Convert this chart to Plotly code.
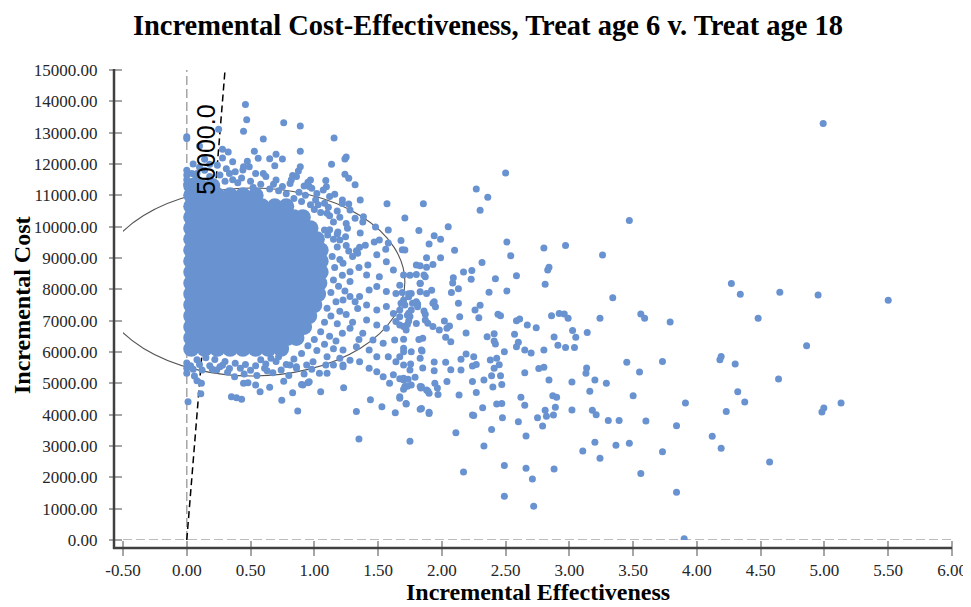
import plotly.graph_objects as go

# ---------------- data ----------------
title_text = "Incremental Cost-Effectiveness, Treat age 6 v. Treat age 18"
x_title = "Incremental Effectiveness"
y_title = "Incremental Cost"

x_tick_vals = [-0.5, 0.0, 0.5, 1.0, 1.5, 2.0, 2.5, 3.0, 3.5, 4.0, 4.5, 5.0, 5.5, 6.0]
x_tick_text = ["-0.50", "0.00", "0.50", "1.00", "1.50", "2.00", "2.50", "3.00",
               "3.50", "4.00", "4.50", "5.00", "5.50", "6.00"]
y_tick_vals = [0, 1000, 2000, 3000, 4000, 5000, 6000, 7000, 8000, 9000, 10000,
               11000, 12000, 13000, 14000, 15000]
y_tick_text = ["0.00", "1000.00", "2000.00", "3000.00", "4000.00", "5000.00",
               "6000.00", "7000.00", "8000.00", "9000.00", "10000.00", "11000.00",
               "12000.00", "13000.00", "14000.00", "15000.00"]

wtp = 50000.0          # willingness-to-pay threshold line
cost_max = 15000.0

# confidence ellipse (centre and half-axes, data units)
ellipse_center = (0.51, 8235)
ellipse_half = (1.20, 3000)

# dense core of the simulation cloud (rows of cost, effectiveness values)
core_row_cost = [11300, 11000, 10650, 10300, 9950, 9600, 9250, 8900, 8550, 8200,
                 7850, 7500, 7150, 6800, 6450, 6100]
core_row_eff = [
    [0.035, 0.10, 0.20],
    [0.035, 0.14, 0.24, 0.34, 0.44, 0.54],
    [0.035, 0.09, 0.19, 0.29, 0.39, 0.49, 0.59, 0.69, 0.78],
    [0.035, 0.14, 0.24, 0.34, 0.44, 0.54, 0.64, 0.74, 0.84, 0.91],
    [0.035, 0.09, 0.19, 0.29, 0.39, 0.49, 0.59, 0.69, 0.79, 0.89, 0.97],
    [0.035, 0.14, 0.24, 0.34, 0.44, 0.54, 0.64, 0.74, 0.84, 0.94, 1.02],
    [0.035, 0.09, 0.19, 0.29, 0.39, 0.49, 0.59, 0.69, 0.79, 0.89, 0.99, 1.05],
    [0.035, 0.14, 0.24, 0.34, 0.44, 0.54, 0.64, 0.74, 0.84, 0.94, 1.05],
    [0.035, 0.09, 0.19, 0.29, 0.39, 0.49, 0.59, 0.69, 0.79, 0.89, 0.99, 1.05],
    [0.035, 0.14, 0.24, 0.34, 0.44, 0.54, 0.64, 0.74, 0.84, 0.94, 1.04],
    [0.035, 0.09, 0.19, 0.29, 0.39, 0.49, 0.59, 0.69, 0.79, 0.89, 0.99, 1.03],
    [0.035, 0.14, 0.24, 0.34, 0.44, 0.54, 0.64, 0.74, 0.84, 0.94, 1.00],
    [0.035, 0.09, 0.19, 0.29, 0.39, 0.49, 0.59, 0.69, 0.79, 0.89, 0.96],
    [0.035, 0.14, 0.24, 0.34, 0.44, 0.54, 0.64, 0.74, 0.84, 0.92],
    [0.035, 0.09, 0.19, 0.29, 0.39, 0.49, 0.59, 0.69, 0.79, 0.86],
    [0.035, 0.14, 0.24, 0.34, 0.44, 0.54, 0.64, 0.74],
]

# scattered simulations (effectiveness, cost)
top_points = [
    (0.46, 13895), (0.47, 13415), (0.0, 12870), (0.0, 12810), (0.25, 13110), (0.445, 13045),
    (0.76, 13320), (0.89, 13215), (0.60, 12800), (1.155, 12830), (0.89, 12405), (0.53, 12405),
    (0.10, 12575), (0.28, 12470), (0.325, 12385), (0.70, 12310), (0.65, 12170), (0.75, 12160),
    (0.69, 11945), (1.25, 12225), (1.24, 12160), (1.135, 11990), (0.89, 11915), (0.875, 11780),
    (0.83, 11630), (0.56, 12180), (0.475, 12085), (0.445, 11915), (0.28, 12195), (0.36, 12075),
    (0.18, 11990), (0.24, 11960), (1.24, 11675), (1.27, 11545), (1.32, 11340), (1.09, 11470),
    (1.095, 11275), (1.16, 11035), (0.97, 11490), (0.95, 11415), (0.98, 11225),
    (0.44, 11810), (0.49, 11915), (0.54, 11700), (0.62, 11600), (0.70, 11490), (0.75, 11280),
    (0.81, 11380), (0.86, 11600), (0.96, 11280), (1.02, 11060), (1.07, 11170), (1.12, 10960),
    (1.22, 10740), (1.28, 10530),
    (0.0, 11800), (0.0, 11650), (0.0, 11500), (0.0, 11350), (0.02, 11200), (0.04, 11700),
    (0.04, 11400), (0.07, 11550), (0.07, 11300), (0.11, 11450), (0.11, 11250), (0.15, 11350),
    (0.19, 11300), (0.23, 11250), (0.08, 11700), (0.18, 11600), (0.26, 11650), (0.335, 11700),
    (0.30, 11450), (0.36, 11500), (0.40, 11400), (0.43, 11550), (0.50, 11450), (0.52, 11250),
    (0.58, 11350), (0.65, 11200), (0.68, 11350), (0.72, 11150), (0.78, 11050), (0.84, 10900),
    (0.88, 11100), (0.90, 10800), (0.93, 11000), (0.97, 10700), (1.00, 10550), (1.05, 10450),
    (0.10, 11900), (0.38, 11750), (0.60, 11700), (0.82, 11500), (0.92, 11300), (1.01, 10850),
    (1.08, 10750), (1.12, 10350), (1.15, 10150), (1.18, 10500), (1.20, 10300), (1.25, 10100),
    (1.22, 10850), (0.05, 12000), (0.14, 12150), (0.31, 11850), (0.14, 11800),
]

right_points = [
    (1.57, 10735), (1.36, 10850), (1.27, 10725), (1.385, 10320), (1.38, 10150), (1.32, 10270),
    (1.26, 9950), (1.48, 9990), (1.58, 9895), (1.36, 9800), (1.185, 9830), (1.18, 9765),
    (1.20, 9575), (1.245, 9680), (1.105, 9735), (1.47, 9510), (1.51, 9575), (1.58, 9480),
    (1.56, 9280), (1.33, 9235), (1.27, 9225), (1.355, 9345), (1.40, 9405), (1.03, 10700),
    (1.10, 10430), (1.11, 10620), (1.08, 9895),
    (1.225, 8830), (1.34, 9150), (1.49, 9100), (1.565, 8880), (1.42, 8780), (1.28, 8560),
    (1.41, 8460), (1.51, 8400), (1.62, 8620), (1.70, 8460), (1.80, 8780), (1.87, 8400),
    (1.83, 8190), (1.88, 7870), (1.76, 7870), (1.70, 7660), (1.64, 7870), (1.565, 7930),
    (1.49, 8090), (1.43, 7980), (1.355, 7770), (1.28, 7770), (1.225, 7660), (1.34, 7390),
    (1.41, 7500), (1.49, 7340), (1.565, 7450), (1.62, 7230), (1.67, 7340), (1.75, 7130),
    (1.81, 7500), (1.87, 7020), (1.41, 7020), (1.49, 6860), (1.565, 6760), (1.64, 6970),
    (1.70, 6810), (1.80, 6910), (1.85, 6440), (1.28, 6760), (1.38, 6600), (1.46, 6380),
    (1.54, 6280), (1.63, 6380), (1.70, 6120), (1.76, 6010), (1.84, 6060), (1.225, 6060),
    (1.33, 6170), (1.43, 6060), (1.49, 5850), (1.58, 5850), (1.64, 5690), (1.70, 5585),
    (1.75, 5425), (1.83, 5800), (1.355, 5690), (1.43, 5480), (1.49, 5370), (1.54, 5210),
    (1.62, 5270), (1.70, 5160), (1.76, 4950), (1.84, 4890), (1.90, 4680), (1.59, 5000),
    (1.67, 4570), (1.72, 4360), (1.84, 4200), (1.90, 4040), (1.28, 5740), (1.225, 5585),
    (1.09, 5585),
    (1.12, 9900), (1.15, 9600), (1.18, 9350), (1.14, 9050), (1.20, 8950), (1.16, 8700),
    (1.22, 8450), (1.15, 8300), (1.19, 8100), (1.13, 7900), (1.24, 7950), (1.17, 7600),
    (1.10, 7400), (1.20, 7300), (1.13, 7150), (1.08, 6950), (1.18, 6900), (1.05, 6650),
    (1.12, 6500), (1.00, 6400), (1.08, 6250), (0.95, 6200), (1.02, 6050), (0.90, 5950),
    (1.25, 9400), (1.30, 9050), (1.35, 8700), (1.28, 8250), (1.32, 7600), (1.25, 7200),
    (1.30, 6950), (1.22, 6600), (1.17, 6350), (1.35, 6400), (1.15, 6100), (1.10, 5850),
    (1.20, 5800),
]

bottom_points = [
    (0.0, 5480), (0.0, 5320), (0.01, 4415), (0.06, 5235), (0.08, 5085), (0.115, 5000),
    (0.11, 4670), (0.12, 5425), (0.18, 5565), (0.235, 5425), (0.26, 5530), (0.335, 5470),
    (0.375, 5210), (0.35, 4575), (0.39, 4540), (0.43, 4490), (0.445, 5000), (0.48, 5020),
    (0.54, 4945), (0.575, 4735), (0.65, 4875), (0.675, 5340), (0.745, 4460), (0.76, 5065),
    (0.83, 4700), (0.87, 4115), (0.90, 4960), (0.95, 5020), (1.05, 4735), (1.04, 5320),
    (1.10, 5320), (1.15, 5585), (1.225, 5530), (1.23, 4860), (1.33, 4105), (1.35, 3225),
    (1.44, 4480), (1.53, 4255), (1.635, 4065), (1.88, 4790), (1.83, 4895),
    (0.0, 5650), (0.03, 5560), (0.08, 5750), (0.15, 5820), (0.22, 5760), (0.30, 5700),
    (0.38, 5640), (0.46, 5600), (0.54, 5560), (0.62, 5620), (0.70, 5700), (0.78, 5600),
    (0.84, 5780), (0.05, 5450), (0.28, 5580), (0.42, 5480), (0.50, 5420), (0.58, 5750),
    (0.66, 5800), (0.72, 5850), (0.86, 5480), (0.10, 5600), (0.20, 5450), (0.32, 5350),
    (0.45, 5300), (0.55, 5250), (0.63, 5400), (0.80, 5250), (0.92, 5300), (0.98, 5450),
    (0.61, 5480), (0.74, 5425), (0.81, 5585), (0.86, 5530), (0.94, 5585), (0.99, 5690),
    (0.96, 5050), (0.91, 4950),
]

far_points = [
    (4.99, 13290), (4.27, 8190), (4.34, 7840), (4.65, 7910), (4.95, 7820), (5.50, 7650),
    (4.48, 7075), (4.86, 6200), (4.19, 5860), (4.18, 5755), (4.30, 5620), (4.64, 5140),
    (4.32, 4735), (4.375, 4405), (3.91, 4370), (4.23, 4100), (3.84, 3650), (4.12, 3310),
    (4.19, 2925), (4.57, 2490), (4.98, 4085), (4.995, 4215), (5.13, 4370), (3.84, 1520),
    (3.90, 40),
    (3.60, 3800), (3.50, 4600), (3.73, 2820), (3.56, 2120), (3.47, 3090), (3.365, 3020),
    (3.39, 3810), (3.305, 3810), (3.24, 2610), (3.20, 3120), (3.105, 2840), (3.21, 4000),
    (3.18, 4140), (3.16, 4745), (3.02, 4150), (3.02, 5040), (3.20, 5105), (3.29, 5000),
    (2.88, 2265), (2.89, 4235), (2.875, 3990), (2.82, 3950), (2.81, 4140), (2.75, 3900),
    (2.79, 3640), (2.87, 4600), (2.90, 4555), (2.84, 5105), (2.62, 4555), (2.65, 4300),
    (2.60, 3775), (2.66, 3320), (2.66, 2290), (2.71, 1950), (2.72, 1075), (2.49, 2380),
    (2.49, 1395), (2.475, 3905), (2.47, 4360), (2.43, 4340), (2.47, 4960), (2.40, 4885),
    (2.39, 3530), (2.33, 3000), (2.32, 4220), (2.25, 3970), (2.24, 3990), (2.27, 4710),
    (2.24, 5055), (2.33, 5105), (2.17, 2170), (2.11, 3425), (2.135, 4630), (1.97, 4640),
    (1.965, 4850), (1.945, 5000), (1.89, 4755), (1.835, 4850), (1.83, 4170), (1.90, 4075),
    (2.04, 5055), (1.75, 3150), (1.71, 4895), (1.73, 4905), (1.72, 4340), (1.67, 4520),
    (1.70, 4810),
    (2.50, 11715), (2.27, 11200), (2.36, 10940), (2.30, 10520), (1.855, 10735), (1.71, 10280),
    (1.82, 9875), (2.05, 10000), (1.94, 9710), (1.99, 9600), (1.90, 9450), (1.68, 9555),
    (1.69, 9265), (1.71, 9255), (2.10, 9245), (1.88, 9010), (1.99, 9010), (2.51, 9510),
    (2.54, 9075), (2.315, 8860), (2.80, 9320), (2.97, 9395), (3.26, 9095), (3.47, 10200),
    (1.83, 8755), (1.88, 8705), (1.93, 8790), (1.75, 8450), (1.80, 8470), (1.86, 8460),
    (2.17, 8555), (2.235, 8600), (2.23, 8320), (2.09, 8370), (2.085, 8200), (2.13, 8020),
    (2.42, 8340), (2.585, 8435), (2.84, 8705), (2.83, 8620), (2.81, 8160), (2.37, 7905),
    (2.51, 7950), (3.34, 7735), (1.83, 8195), (1.83, 7925), (1.92, 7970), (2.075, 7895),
    (2.13, 7555), (1.94, 7605), (1.93, 7555), (1.95, 7445), (1.86, 7310), (1.87, 7205),
    (1.81, 7530), (2.30, 7490), (2.26, 7340), (2.29, 7095), (2.14, 7125), (2.44, 7205),
    (2.46, 7160), (2.585, 7000), (2.61, 7055), (2.67, 6860), (2.74, 6775), (2.86, 7160),
    (2.92, 7225), (2.96, 7215), (2.99, 7075), (3.24, 7075), (3.56, 7215), (3.59, 7075),
    (3.79, 6960), (3.025, 6690), (3.05, 6470), (3.14, 6620), (2.88, 6480), (2.91, 6215),
    (2.97, 6140), (3.04, 6140), (2.80, 6065), (2.57, 6565), (2.60, 6310), (2.585, 6170),
    (2.65, 6065), (2.70, 5970), (2.41, 6585), (2.355, 6490), (2.41, 6350), (2.42, 6255),
    (2.49, 6010), (2.19, 6605), (2.02, 6990), (2.06, 6830), (2.04, 6755), (1.98, 6700),
    (2.03, 6470), (2.07, 6330), (1.89, 6915), (1.93, 6810), (1.82, 6395), (1.845, 6030),
    (1.755, 5620), (2.19, 5935), (2.15, 5765), (2.25, 5850), (2.38, 5745), (2.43, 5800),
    (2.45, 5595), (2.41, 5480), (2.27, 5605), (2.24, 5555), (1.94, 5680), (2.03, 5670),
    (1.85, 5490), (1.94, 5405), (2.07, 5435), (2.15, 5425), (2.39, 5245), (2.46, 5245),
    (2.65, 5340), (2.76, 5470), (2.80, 5510), (3.13, 5320), (3.135, 5490), (3.45, 5670),
    (3.55, 5360), (3.73, 5700), (1.79, 5195), (1.67, 5150), (1.70, 5105), (1.735, 5130),
    (1.70, 6010), (1.70, 6405), (1.67, 5850), (1.72, 6700), (1.67, 6860), (1.73, 6880),
    (1.74, 6990), (1.74, 7235), (1.76, 7340), (1.67, 7125), (1.73, 7170), (1.68, 7555),
    (1.71, 7500), (1.74, 7765), (1.77, 7555), (1.80, 7605), (1.81, 7445), (1.67, 8130),
    (1.69, 7900), (1.74, 7860),
]

# ---------------- styling ----------------
dot_color = "#6992D0"
serif = "Liberation Serif"
sans = "Liberation Sans"

core_x = [x for row in core_row_eff for x in row]
core_y = [c for c, row in zip(core_row_cost, core_row_eff) for _ in row]
scatter_pts = top_points + right_points + bottom_points + far_points
sc_x = [p[0] for p in scatter_pts]
sc_y = [p[1] for p in scatter_pts]

fig = go.Figure()

# willingness-to-pay line (below the dots)
fig.add_trace(go.Scatter(
    x=[0, cost_max / wtp], y=[0, cost_max], mode="lines",
    line=dict(color="black", width=1.5, dash="7px,4px"),
    hoverinfo="skip", showlegend=False))

fig.add_trace(go.Scatter(
    x=core_x, y=core_y, mode="markers",
    marker=dict(size=16, color=dot_color, line=dict(width=0)),
    showlegend=False, hoverinfo="skip"))

fig.add_trace(go.Scatter(
    x=sc_x, y=sc_y, mode="markers",
    marker=dict(size=7, color=dot_color, line=dict(width=0)),
    showlegend=False))

# page offset (body margin) and geometry helpers; targets are in window pixels
OFF = 8
W, H = 971 - OFF, 607 - OFF
L, R, T, B = 123 - OFF, W - (952 - OFF), 70 - OFF, H - (540 - OFF)
pw, ph = W - L - R, H - T - B


def px_x(px):
    return (px - OFF - L) / pw


def px_y(py):
    return (H - B - (py - OFF)) / ph


shapes = [
    # vertical dashed zero line
    dict(type="line", xref="x", yref="y", x0=0, x1=0, y0=0, y1=cost_max,
         line=dict(color="#A6A6A6", width=1.5, dash="9px,4px"), layer="below"),
    # horizontal dashed zero line
    dict(type="line", xref="paper", yref="y", x0=px_x(110), x1=1, y0=0, y1=0,
         line=dict(color="#A6A6A6", width=1.5, dash="9px,4px"), layer="below"),
    # ellipse
    dict(type="circle", xref="x", yref="y",
         x0=ellipse_center[0] - ellipse_half[0], x1=ellipse_center[0] + ellipse_half[0],
         y0=ellipse_center[1] - ellipse_half[1], y1=ellipse_center[1] + ellipse_half[1],
         line=dict(color="#555555", width=1.1), layer="below"),
    # axis lines (offset from the plotting region)
    dict(type="line", xref="paper", yref="paper", x0=px_x(114), x1=px_x(114),
         y0=px_y(69), y1=px_y(549), line=dict(color="#404040", width=2.5)),
    dict(type="line", xref="paper", yref="paper", x0=px_x(113), x1=px_x(952),
         y0=px_y(548), y1=px_y(548), line=dict(color="#404040", width=2.5)),
]

annotations = [
    dict(text=f"{wtp:.1f}", x=0.15, y=12450, xref="x", yref="y", textangle=-90,
         showarrow=False, font=dict(family=sans, size=25, color="black")),
    dict(text=f"<b>{x_title}</b>", x=0.5, y=px_y(592), xref="paper", yref="paper",
         showarrow=False, xanchor="center", yanchor="middle",
         font=dict(family=serif, size=24, color="black")),
    dict(text=f"<b>{y_title}</b>", x=px_x(22), y=0.5, xref="paper", yref="paper",
         textangle=-90, showarrow=False, xanchor="center", yanchor="middle",
         font=dict(family=serif, size=24, color="black")),
]

fig.update_layout(
    width=W, height=H,
    margin=dict(l=L, r=R, t=T, b=B, autoexpand=False),
    paper_bgcolor="white", plot_bgcolor="rgba(0,0,0,0)",
    title=dict(text=f"<b>{title_text}</b>", x=(488 - OFF) / W, xanchor="center",
               xref="container", y=1 - (25 - OFF) / H, yanchor="middle", yref="container",
               font=dict(family=serif, size=28.5, color="black")),
    shapes=shapes, annotations=annotations,
    xaxis=dict(range=[-0.5, 6.0], tickvals=x_tick_vals, ticktext=x_tick_text,
               ticks="outside", ticklen=15, tickwidth=1.5, tickcolor="#A6A6A6",
               showline=False, showgrid=False, zeroline=False, automargin=False,
               tickfont=dict(family=serif, size=17, color="#262626")),
    yaxis=dict(range=[0, cost_max], tickvals=y_tick_vals, ticktext=y_tick_text,
               ticks="outside", ticklen=13, tickwidth=1.5, tickcolor="#A6A6A6",
               showline=False, showgrid=False, zeroline=False, ticklabelstandoff=8,
               automargin=False,
               tickfont=dict(family=serif, size=17, color="#262626")),
    showlegend=False,
)

fig.write_html("out.html")
